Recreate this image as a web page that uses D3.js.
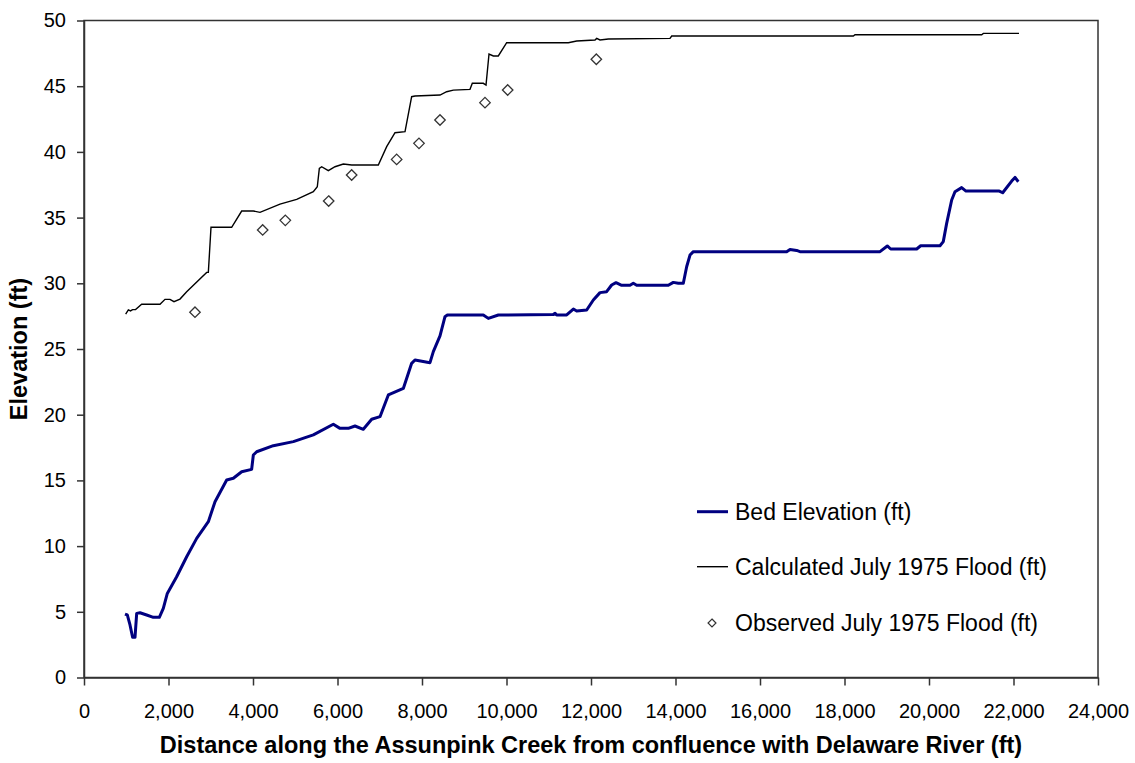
<!DOCTYPE html>
<html>
<head>
<meta charset="utf-8">
<script src="https://cdn.jsdelivr.net/npm/d3@7"></script>
<style>
  body { margin: 0; background: #fff; }
  text { font-family: "Liberation Sans", Arial, sans-serif; fill: #000; }
</style>
</head>
<body>
<svg id="chart" width="1135" height="763"></svg>
<script>
// bed elevation along the creek
var bedDistance = [970,1025,1089,1150,1207,1247,1325,1483,1641,1783,1877,1972,2193,2430,2667,2943,3101,3377,3535,3732,3968,4008,4087,4481,4955,5428,5901,6059,6256,6414,6611,6809,7006,7203,7558,7755,7834,8189,8268,8426,8544,8600,9451,9570,9807,11108,11150,11187,11424,11582,11661,11898,12055,12213,12370,12489,12592,12726,12923,13001,13081,13830,13948,14067,14185,14264,14343,14422,16631,16710,16868,16946,18840,19013,19093,19708,19803,20260,20338,20418,20537,20615,20773,20875,21664,21744,21957,22036,22114];
var bedElevation = [4.83,4.76,4.0,3.06,3.06,4.88,4.93,4.76,4.58,4.58,5.26,6.4,7.67,9.19,10.59,11.86,13.38,15.03,15.16,15.66,15.84,16.93,17.18,17.64,17.95,18.46,19.27,18.96,18.96,19.14,18.89,19.65,19.85,21.5,22.0,23.91,24.16,23.96,24.8,26.0,27.46,27.59,27.59,27.33,27.59,27.62,27.72,27.59,27.59,28.04,27.89,27.97,28.73,29.29,29.36,29.87,30.05,29.85,29.85,30.0,29.85,29.85,30.07,30.0,30.0,31.26,32.15,32.41,32.41,32.58,32.5,32.41,32.41,32.84,32.61,32.61,32.86,32.86,33.17,34.56,36.34,36.97,37.28,37.02,37.02,36.89,37.78,38.06,37.73];

// calculated July 1975 flood profile
var calcDistance = [986,1050,1100,1150,1220,1365,1799,1917,2035,2130,2272,2430,2903,2943,3006,3495,3732,4008,4166,4639,5034,5428,5522,5570,5625,5783,5941,6138,6336,6966,7164,7361,7598,7755,7834,8426,8584,8742,9136,9191,9451,9515,9586,9688,9806,10004,11463,11661,12095,12134,12213,12410,13870,13910,18209,18249,21247,21286,22130];
var calcElevation = [27.66,27.97,27.9,28.0,28.0,28.4,28.4,28.78,28.78,28.6,28.8,29.36,30.83,30.83,34.26,34.26,35.5,35.5,35.4,36.03,36.39,36.97,37.35,38.75,38.87,38.57,38.87,39.08,39.0,39.0,40.4,41.46,41.54,44.2,44.25,44.33,44.58,44.7,44.76,45.22,45.22,45.09,47.45,47.3,47.3,48.31,48.31,48.44,48.52,48.64,48.52,48.59,48.64,48.82,48.82,48.92,48.92,49.02,49.02];

// observed high water marks
var obsDistance = [2627,4229,4765,5791,6335,7400,7929,8426,9491,10028,12126];
var obsElevation = [27.8,34.06,34.79,36.26,38.24,39.43,40.65,42.43,43.75,44.71,47.05];

var xTicks = d3.range(0, 24001, 2000);
var yTicks = d3.range(0, 51, 5);
var legendLabels = ["Bed Elevation (ft)", "Calculated July 1975 Flood (ft)", "Observed July 1975 Flood (ft)"];

var LEFT = 84, RIGHT = 1098, TOP = 20.5, BOTTOM = 677.5;

var svg = d3.select('#chart');

var xScale = d3.scaleLinear().domain([0, 24000]).range([LEFT, RIGHT]);
var yScale = d3.scaleLinear().domain([0, 50]).range([BOTTOM, TOP]);

var zip = function(xs, ys){
  return xs.map(function(x, i){ return {x: x, y: ys[i]}; });
};

var line = d3.line()
  .x(function(d){ return xScale(d.x); })
  .y(function(d){ return yScale(d.y); });

// plot frame
svg.append('rect')
  .attr('x', LEFT).attr('y', TOP)
  .attr('width', RIGHT - LEFT).attr('height', BOTTOM - TOP)
  .attr('fill', 'none').attr('stroke', '#333').attr('stroke-width', 1.5);

var fmt = d3.format(',');

var xAxis = svg.append('g')
  .attr('transform', 'translate(0,' + BOTTOM + ')')
  .call(d3.axisBottom(xScale).tickValues(xTicks).tickFormat(fmt).tickSize(8).tickSizeOuter(0).tickPadding(18));

var yAxis = svg.append('g')
  .attr('transform', 'translate(' + LEFT + ',0)')
  .call(d3.axisLeft(yScale).tickValues(yTicks).tickSize(7).tickSizeOuter(0).tickPadding(11));

[xAxis, yAxis].forEach(function(g){
  g.selectAll('path, line').attr('stroke', '#333').attr('stroke-width', 1.5);
  g.selectAll('text').attr('font-size', 20).attr('font-family', '"Liberation Sans", Arial, sans-serif').attr('fill', '#000');
});

// axis titles
svg.append('text')
  .attr('x', (LEFT + RIGHT) / 2).attr('y', 753)
  .attr('text-anchor', 'middle')
  .attr('font-size', 23.5).attr('font-weight', 'bold')
  .text('Distance along the Assunpink Creek from confluence with Delaware River (ft)');

svg.append('text')
  .attr('transform', 'translate(27,' + ((TOP + BOTTOM) / 2) + ') rotate(-90)')
  .attr('text-anchor', 'middle')
  .attr('font-size', 23.5).attr('font-weight', 'bold')
  .text('Elevation (ft)');

// series
svg.append('path')
  .attr('d', line(zip(calcDistance, calcElevation)))
  .attr('fill', 'none').attr('stroke', '#000').attr('stroke-width', 1.4);

svg.append('path')
  .attr('d', line(zip(bedDistance, bedElevation)))
  .attr('fill', 'none').attr('stroke', '#000080').attr('stroke-width', 3)
  .attr('stroke-linejoin', 'round');

var diamond = d3.symbol().type(d3.symbolDiamond2).size(70);

svg.selectAll('.obs')
  .data(zip(obsDistance, obsElevation))
  .enter().append('path')
  .attr('class', 'obs')
  .attr('d', diamond)
  .attr('transform', function(d){ return 'translate(' + xScale(d.x) + ',' + yScale(d.y) + ')'; })
  .attr('fill', '#fff').attr('stroke', '#333').attr('stroke-width', 1.3);

// legend
var legendY = [511.7, 566.7, 623];
var legend = svg.append('g');
legend.append('line')
  .attr('x1', 697).attr('x2', 728).attr('y1', legendY[0]).attr('y2', legendY[0])
  .attr('stroke', '#000080').attr('stroke-width', 3);
legend.append('line')
  .attr('x1', 697).attr('x2', 728).attr('y1', legendY[1]).attr('y2', legendY[1])
  .attr('stroke', '#000').attr('stroke-width', 1.4);
legend.append('path')
  .attr('d', d3.symbol().type(d3.symbolDiamond2).size(40)())
  .attr('transform', 'translate(712,' + legendY[2] + ')')
  .attr('fill', '#fff').attr('stroke', '#333').attr('stroke-width', 1.2);
legend.selectAll('.lbl')
  .data(legendLabels)
  .enter().append('text')
  .attr('class', 'lbl')
  .attr('x', 735)
  .attr('y', function(d, i){ return legendY[i]; })
  .attr('dy', '0.35em')
  .attr('font-size', 23)
  .text(function(d){ return d; });
</script>
</body>
</html>
